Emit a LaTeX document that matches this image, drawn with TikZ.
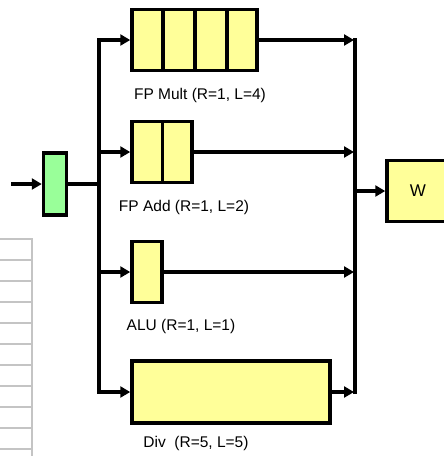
\documentclass[tikz,border=0pt]{standalone}
\usepackage{fontspec}
\setmainfont{Liberation Sans}
\usetikzlibrary{arrows.meta}
\definecolor{unityel}{HTML}{FFFF99}
\definecolor{unitgrn}{HTML}{99FF99}
\definecolor{tblgray}{HTML}{C4C4C4}
\begin{document}
\begin{tikzpicture}[x=1pt,y=-1pt,
  unit/.style={draw=black,line width=3.5pt,fill=unityel,inner sep=0pt,rectangle},
  wire/.style={line width=3.5pt,line cap=butt},
  arr/.style={wire,-{Triangle[length=10pt,width=11pt]}},
  lbl/.style={font=\fontsize{15.5}{18}\selectfont,inner sep=0pt,text=black},
  tbl/.style={draw=tblgray,line width=1.6pt}]
\useasboundingbox (0,0) rectangle (444,456);
% partial table on left
\foreach \yy in {239,260,281,302,323,344,365,386,407,428,449}
  \draw[tbl] (-2,\yy) -- (32,\yy);
\draw[tbl,line width=2.4pt] (32,238) -- (32,458);
% units
\node[unit,fill=unitgrn,minimum width=23pt,minimum height=62pt] (g) at (55,184) {};
\node[unit,minimum width=125pt,minimum height=61pt] (mult) at (194.5,40) {};
\foreach \xx in {163,195,227} \draw[wire] (\xx,9.5) -- (\xx,70.5);
\node[unit,minimum width=60pt,minimum height=61pt] (add) at (162,152) {};
\draw[wire] (162.5,121.5) -- (162.5,182.5);
\node[unit,minimum width=30pt,minimum height=61pt] (alu) at (147,272) {};
\node[unit,minimum width=198pt,minimum height=62pt] (div) at (231,392) {};
\node[unit,minimum width=62pt,minimum height=61pt] (w) at (418,191) {};
\node[lbl,font=\fontsize{17}{20}\selectfont] at (w.center) {W};
% labels
\node[lbl] (lm) at (200,95) {FP Mult (R=1, L=4)};
\node[lbl] (la) at (184,207) {FP Add (R=1, L=2)};
\node[lbl] (lu) at (181,326) {ALU (R=1, L=1)};
\node[lbl] (ld) at (196,443) {Div~~(R=5, L=5)};
% buses
\coordinate (in) at (11,184);
\coordinate (lbT) at (99,40);
\coordinate (lbB) at (99,392);
\coordinate (rbT) at (355,40);
\coordinate (rbB) at (355,392);
\draw[arr] (in) -- (g.west);
\draw[wire] ([yshift=1.75pt]lbT) -- ([yshift=-1.75pt]lbB);
\draw[wire] (g.east) -- (g.east -| lbT);
\draw[arr] ([xshift=-1.75pt]lbT) -- (mult.west);
\draw[arr] (add.west -| lbT) -- (add.west);
\draw[arr] (alu.west -| lbT) -- (alu.west);
\draw[arr] ([xshift=-1.75pt]lbB) -- (div.west);
\draw[wire] ([yshift=1.75pt]rbT) -- ([yshift=-1.75pt]rbB);
\draw[arr] (mult.east) -- ([xshift=-1pt]mult.east -| rbT);
\draw[arr] (add.east) -- ([xshift=-1pt]add.east -| rbT);
\draw[arr] (alu.east) -- ([xshift=-1pt]alu.east -| rbT);
\draw[arr] (div.east) -- ([xshift=-1pt]div.east -| rbB);
\draw[arr] (w.west -| rbT) -- (w.west);
\end{tikzpicture}
\end{document}
